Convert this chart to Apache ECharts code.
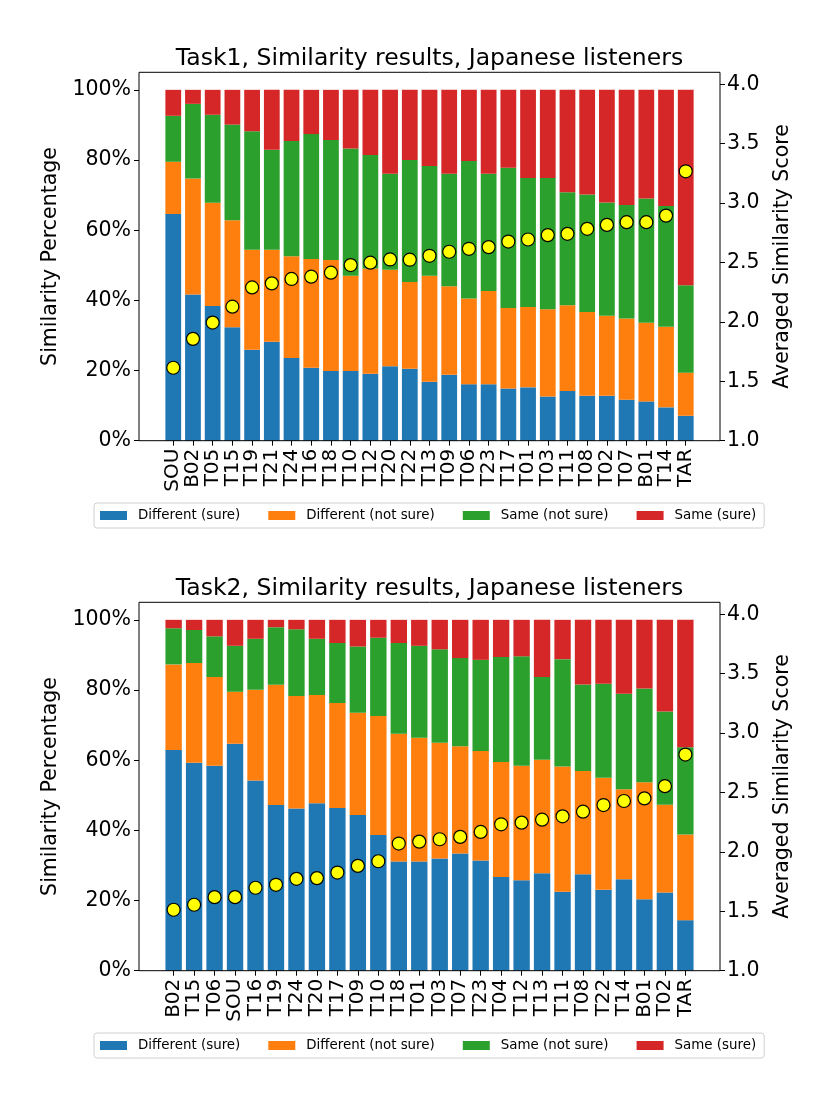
<!DOCTYPE html>
<html>
<head>
<meta charset="utf-8">
<script src="https://cdn.jsdelivr.net/npm/echarts@6/dist/echarts.min.js"></script>
<style>html,body{margin:0;padding:0;background:#fff}#c{width:830px;height:1107px}</style>
</head>
<body>
<div id="c"></div>
<script>
const seriesNames = ['Different (sure)', 'Different (not sure)', 'Same (not sure)', 'Same (sure)'];
const colors = ['#1f77b4', '#ff7f0e', '#2ca02c', '#d62728'];

const titles = ['Task1, Similarity results, Japanese listeners', 'Task2, Similarity results, Japanese listeners'];
const leftAxisName = 'Similarity Percentage';
const rightAxisName = 'Averaged Similarity Score';

const cats1 = ['SOU','B02','T05','T15','T19','T21','T24','T16','T18','T10','T12','T20','T22','T13','T09','T06','T23','T17','T01','T03','T11','T08','T02','T07','B01','T14','TAR'];
const diffSure1 = [64.6,41.7,38.4,32.3,25.9,28.2,23.6,20.8,19.9,19.9,19.1,21.2,20.5,16.8,18.8,16.1,16.1,14.9,15.2,12.6,14.2,12.8,12.8,11.7,11.2,9.5,7.1];
const diffNotSure1 = [14.9,33.0,29.4,30.5,28.5,26.2,29.0,31.0,31.6,27.1,30.0,27.5,24.7,30.2,25.2,24.4,26.6,22.9,22.9,24.9,24.4,23.9,22.8,23.1,22.4,23.0,12.3];
const sameNotSure1 = [13.1,21.3,25.1,27.3,33.8,28.5,32.8,35.6,34.2,36.3,32.3,27.4,34.8,31.3,32.1,39.2,33.4,40.0,36.8,37.4,32.2,33.5,32.3,32.4,35.4,34.4,24.9];
const sameSure1 = [7.4,4.0,7.1,9.9,11.8,17.1,14.6,12.6,14.3,16.7,18.6,23.9,20.0,21.7,23.9,20.3,23.9,22.2,25.1,25.1,29.2,29.8,32.1,32.8,31.0,33.1,55.7];
const score1 = [1.614,1.857,1.994,2.128,2.290,2.324,2.361,2.380,2.414,2.478,2.498,2.525,2.523,2.556,2.590,2.615,2.629,2.676,2.693,2.730,2.741,2.783,2.816,2.839,2.839,2.894,3.267];

const cats2 = ['B02','T15','T06','SOU','T16','T19','T24','T20','T17','T09','T10','T18','T01','T03','T07','T23','T04','T12','T13','T11','T08','T22','T14','B01','T02','TAR'];
const diffSure2 = [62.9,59.3,58.4,64.7,54.2,47.2,46.2,47.7,46.4,44.4,38.7,31.1,31.1,32.0,33.4,31.4,26.7,25.8,27.8,22.5,27.5,23.1,26.1,20.4,22.3,14.4];
const diffNotSure2 = [24.4,28.4,25.3,14.8,25.9,34.3,32.1,30.9,29.9,29.1,33.9,36.4,35.3,33.0,30.6,31.2,32.8,32.6,32.3,35.7,29.4,31.9,25.6,33.3,25.0,24.4];
const sameNotSure2 = [10.3,9.4,11.6,13.1,14.5,16.4,19.0,16.0,17.1,18.9,22.3,25.9,26.2,26.6,25.1,26.0,29.9,31.2,23.6,30.6,24.7,26.8,27.2,26.7,26.6,24.9];
const sameSure2 = [2.4,2.9,4.7,7.4,5.4,2.1,2.7,5.4,6.6,7.6,5.1,6.6,7.4,8.4,10.9,11.4,10.6,10.4,16.3,11.2,18.4,18.2,21.1,19.6,26.1,36.3];
const score2 = [1.513,1.555,1.619,1.619,1.698,1.723,1.773,1.779,1.826,1.882,1.921,2.070,2.086,2.106,2.126,2.168,2.232,2.246,2.271,2.299,2.338,2.394,2.428,2.450,2.553,2.819];

const pctTicks = { min: 0, max: 105, interval: 20 };
const scoreTicks = { min: 1, max: 4.1, interval: 0.5 };

const FONT = 'DejaVu Sans';
const FRAME_L = 139, FRAME_W = 581, PAD = 24.4, H = 368.4;
const tops = [72.3, 602.3];
const legendTops = [503, 1033];

const option = {
  animation: false,
  textStyle: { fontFamily: FONT, color: '#000' },
  title: [], grid: [], xAxis: [], yAxis: [], series: [], legend: []
};

function addPanel(k, cats, stacks, score) {
  const top = tops[k];
  option.title.push({
    text: titles[k], left: 424.5, top: top - 30, textAlign: 'center',
    textStyle: { fontFamily: FONT, fontSize: 23.5, fontWeight: 'normal', color: '#000' }
  });
  option.grid.push({ left: FRAME_L + PAD, width: FRAME_W - 2 * PAD, top: top, height: H, containLabel: false });
  const gBar = option.grid.length - 1;
  option.grid.push({ left: FRAME_L, width: FRAME_W, top: top, height: H, show: true,
    borderColor: '#000', borderWidth: 1, backgroundColor: 'transparent', z: 10 });
  const gFrame = option.grid.length - 1;

  option.xAxis.push({
    type: 'category', gridIndex: gBar, data: cats,
    axisLine: { show: false },
    axisTick: { show: true, alignWithLabel: true, length: 5, lineStyle: { color: '#000', width: 1 } },
    axisLabel: { rotate: 90, interval: 0, fontSize: 20, color: '#000', margin: 8, fontFamily: FONT }
  });
  const xBar = option.xAxis.length - 1;
  option.xAxis.push({ type: 'value', gridIndex: gFrame, show: false });

  option.yAxis.push({
    type: 'value', gridIndex: gBar, position: 'left', offset: PAD,
    min: pctTicks.min, max: pctTicks.max, interval: pctTicks.interval,
    splitLine: { show: false },
    axisLine: { show: false },
    axisTick: { show: true, length: 5, lineStyle: { color: '#000' } },
    axisLabel: { fontSize: 20.5, color: '#000', margin: 8, showMaxLabel: false, fontFamily: FONT,
      formatter: v => (v > 100 ? '' : v + '%') },
    name: leftAxisName, nameLocation: 'middle', nameGap: 64, nameRotate: 90,
    nameTextStyle: { fontSize: 20.5, color: '#000', fontFamily: FONT }
  });
  const yL = option.yAxis.length - 1;
  option.yAxis.push({
    type: 'value', gridIndex: gBar, position: 'right', offset: PAD,
    min: scoreTicks.min, max: scoreTicks.max, interval: scoreTicks.interval,
    splitLine: { show: false },
    axisLine: { show: false },
    axisTick: { show: true, length: 5, lineStyle: { color: '#000' } },
    axisLabel: { fontSize: 20.5, color: '#000', margin: 7, showMaxLabel: false, fontFamily: FONT,
      formatter: v => (v > 4.0001 ? '' : v.toFixed(1)) },
    name: rightAxisName, nameLocation: 'middle', nameGap: 52, nameRotate: 90,
    nameTextStyle: { fontSize: 20.5, color: '#000', fontFamily: FONT }
  });
  const yR = option.yAxis.length - 1;
  option.yAxis.push({ type: 'value', gridIndex: gFrame, show: false });

  stacks.forEach((arr, i) => {
    option.series.push({
      type: 'bar', name: seriesNames[i], stack: 'panel' + k, data: arr,
      xAxisIndex: xBar, yAxisIndex: yL, barWidth: '80%',
      itemStyle: { color: colors[i] }
    });
  });
  option.series.push({
    type: 'scatter', name: 'Averaged Similarity Score', data: score,
    xAxisIndex: xBar, yAxisIndex: yR, symbol: 'circle', symbolSize: 13, z: 5,
    itemStyle: { color: '#ffff00', borderColor: '#000', borderWidth: 1.2, opacity: 1 }
  });

  option.legend.push({
    data: seriesNames, left: 94, top: legendTops[k], orient: 'horizontal',
    itemWidth: 27, itemHeight: 9, itemGap: 28, icon: 'rect',
    padding: [6, 8, 6, 6], borderColor: '#d0d0d0', borderWidth: 1, borderRadius: 3,
    textStyle: { fontSize: 13.4, color: '#000', fontFamily: FONT, padding: [0, 0, 0, 6] }
  });
}

addPanel(0, cats1, [diffSure1, diffNotSure1, sameNotSure1, sameSure1], score1);
addPanel(1, cats2, [diffSure2, diffNotSure2, sameNotSure2, sameSure2], score2);

const chart = echarts.init(document.getElementById('c'), null, { renderer: 'canvas' });
chart.setOption(option);
</script>
</body>
</html>
